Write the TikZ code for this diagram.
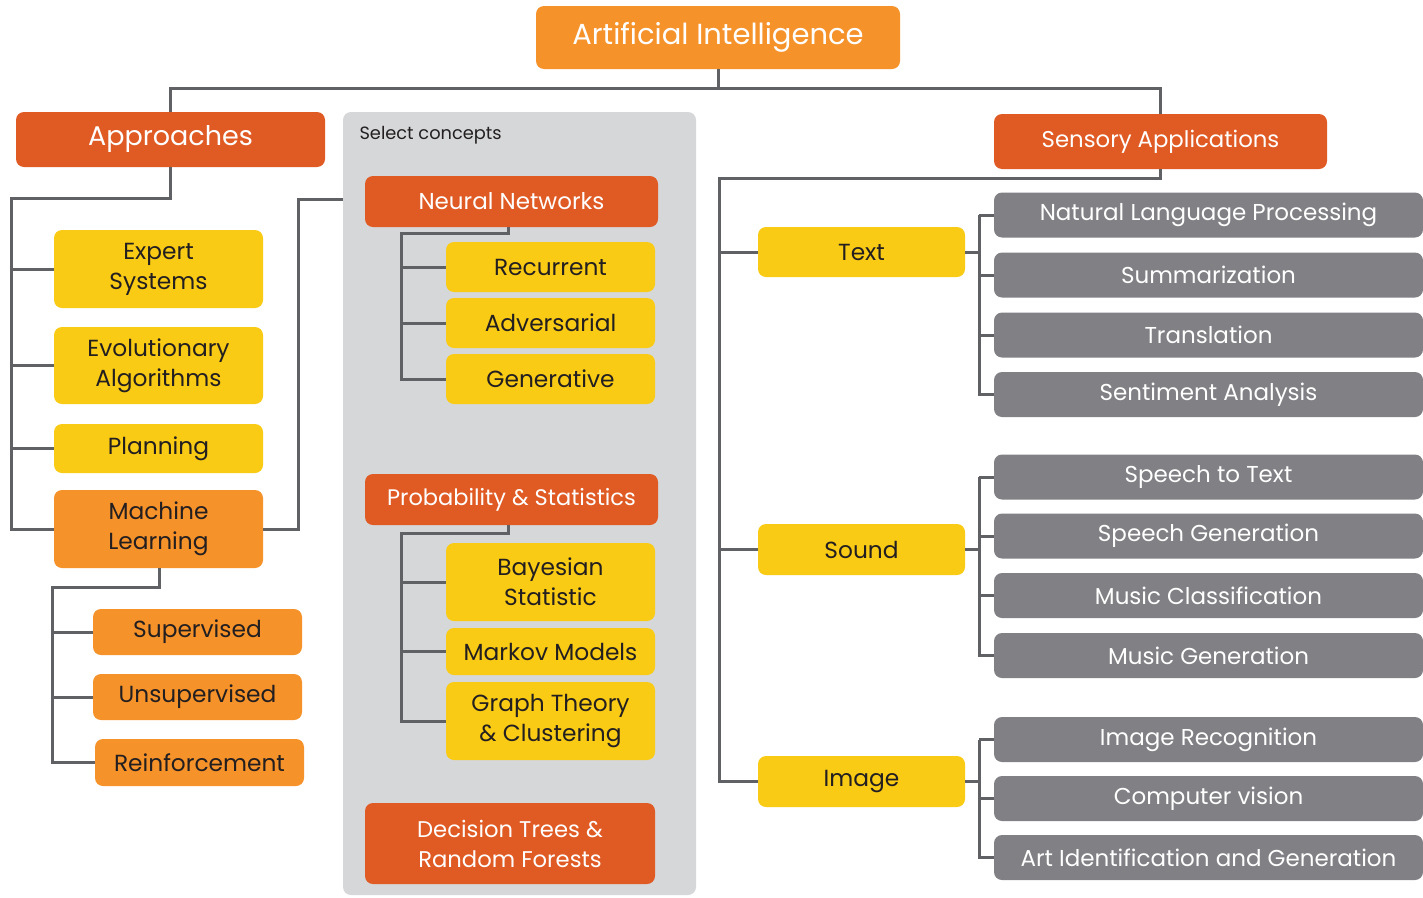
\documentclass[tikz,border=0pt]{standalone}
\usepackage{fontspec}
\setmainfont{Poppins}
\usetikzlibrary{calc}

\begin{document}
\begin{tikzpicture}[x=1pt, y=-1pt]
    % Define colours
    \definecolor{mainOrange}{HTML}{F5922A}
    \definecolor{darkOrange}{HTML}{E05A24}
    \definecolor{boxYellow}{HTML}{F9CB15}
    \definecolor{boxGrey}{HTML}{808085}
    \definecolor{panelGrey}{HTML}{D6D7D9}
    \definecolor{lineGrey}{HTML}{606165}
    \definecolor{textDark}{HTML}{231F20}

    % Define styles
    \tikzset{
      box/.style={rounded corners=8pt, inner sep=0pt, align=center},
      headbox/.style={box, fill=darkOrange, text=white},
      mlbox/.style={box, fill=mainOrange, text=textDark, font=\fontsize{23.3}{30}\selectfont},
      yellowbox/.style={box, fill=boxYellow, text=textDark, font=\fontsize{23.3}{30}\selectfont},
      greybox/.style={box, fill=boxGrey, text=white, minimum width=429, minimum height=45, font=\fontsize{23}{26}\selectfont},
      link/.style={draw=lineGrey, line width=3pt}
    }

    % Fix the page size
    \useasboundingbox (0,0) rectangle (1423,897);

    % Select concepts panel
    \node[box, fill=panelGrey, minimum width=353, minimum height=783] (panel) at (519.5,503.5) {};
    \node[anchor=west, text=textDark, font=\fontsize{17.8}{20}\selectfont] (select) at (356,135) {Select concepts};

    % Top level
    \node[box, fill=mainOrange, text=white, minimum width=364, minimum height=63, font=\fontsize{29}{34}\selectfont] (ai) at (718,37.5) {Artificial Intelligence};
    \node[headbox, minimum width=309, minimum height=55, font=\fontsize{27}{32}\selectfont] (appr) at (170.5,139.5) {Approaches};
    \node[headbox, minimum width=333, minimum height=55, font=\fontsize{22.8}{28}\selectfont] (sens) at (1160.5,141.5) {Sensory Applications};

    % Approaches
    \node[yellowbox, minimum width=209, minimum height=78] (expert) at (158.5,269) {Expert\\Systems};
    \node[yellowbox, minimum width=209, minimum height=77] (evo) at (158.5,365.5) {Evolutionary\\Algorithms};
    \node[yellowbox, minimum width=209, minimum height=49] (plan) at (158.5,448.5) {Planning};
    \node[mlbox, minimum width=209, minimum height=78] (ml) at (158.5,529) {Machine\\Learning};
    \node[mlbox, minimum width=209, minimum height=46] (sup) at (197.5,632) {Supervised};
    \node[mlbox, minimum width=209, minimum height=46] (unsup) at (197.5,697) {Unsupervised};
    \node[mlbox, minimum width=209, minimum height=47] (reinf) at (199.5,762.5) {Reinforcement};

    % Concepts
    \node[headbox, minimum width=293, minimum height=51, font=\fontsize{23}{26}\selectfont] (nn) at (511.5,201.5) {Neural Networks};
    \node[yellowbox, minimum width=209, minimum height=50] (rec) at (550.5,267) {Recurrent};
    \node[yellowbox, minimum width=209, minimum height=50] (adv) at (550.5,323) {Adversarial};
    \node[yellowbox, minimum width=209, minimum height=50] (gen) at (550.5,379) {Generative};
    \node[headbox, minimum width=293, minimum height=51, font=\fontsize{22.5}{26}\selectfont] (prob) at (511.5,499.5) {Probability \& Statistics};
    \node[yellowbox, minimum width=209, minimum height=78] (bayes) at (550.5,582) {Bayesian\\Statistic};
    \node[yellowbox, minimum width=209, minimum height=47] (markov) at (550.5,651.5) {Markov Models};
    \node[yellowbox, minimum width=209, minimum height=78] (graph) at (550.5,721) {Graph Theory\\\& Clustering};
    \node[headbox, minimum width=290, minimum height=81, font=\fontsize{22.7}{30}\selectfont] (dtree) at (510,843.5) {Decision Trees \&\\Random Forests};

    % Sensory applications
    \node[yellowbox, minimum width=207, minimum height=50] (text) at (861.5,252) {Text};
    \node[yellowbox, minimum width=207, minimum height=51] (sound) at (861.5,549.5) {Sound};
    \node[yellowbox, minimum width=207, minimum height=51] (image) at (861.5,781.5) {Image};

    \node[greybox] (nlp) at (1208.5,215) {Natural Language Processing};
    \node[greybox] (summ) at (1208.5,275) {Summarization};
    \node[greybox] (trans) at (1208.5,335) {Translation};
    \node[greybox] (senti) at (1208.5,394.5) {Sentiment Analysis};
    \node[greybox] (stt) at (1208.5,477) {Speech to Text};
    \node[greybox] (sgen) at (1208.5,536) {Speech Generation};
    \node[greybox] (mclass) at (1208.5,595.5) {Music Classification};
    \node[greybox] (mgen) at (1208.5,655.5) {Music Generation};
    \node[greybox] (irec) at (1208.5,739.5) {Image Recognition};
    \node[greybox] (cvis) at (1208.5,798.5) {Computer vision};
    \node[greybox] (art) at (1208.5,857.5) {Art Identification and Generation};

    % Spine coordinates
    \coordinate (aspine) at (11,198);
    \coordinate (mlturn) at (298,199);
    \coordinate (mlspine) at (52,587);
    \coordinate (nnspine) at (401,233);
    \coordinate (probspine) at (401,533);
    \coordinate (sspine) at (719,178);
    \coordinate (tspine) at (979,0);

    % Draw the connectors
    \draw[link] (ai.south) -- ++(0,19) -| (appr.north);
    \draw[link] (ai.south) -- ++(0,19) -| (sens.north);

    \draw[link] (appr.south) |- (aspine) |- (ml.west);
    \foreach \n in {expert,evo,plan}
      \draw[link] (aspine |- \n.west) -- (\n.west);
    \draw[link] (ml.east) -| (mlturn) -- (panel.west |- mlturn);

    \draw[link] (ml.south -| 159,0) |- (mlspine) |- (reinf.west);
    \foreach \n in {sup,unsup}
      \draw[link] (mlspine |- \n.west) -- (\n.west);

    \draw[link] (nn.south -| 508,0) |- (nnspine) |- (gen.west);
    \foreach \n in {rec,adv}
      \draw[link] (nnspine |- \n.west) -- (\n.west);

    \draw[link] (prob.south -| 508,0) |- (probspine) |- (graph.west);
    \foreach \n in {bayes,markov}
      \draw[link] (probspine |- \n.west) -- (\n.west);

    \draw[link] (sens.south) |- (sspine) |- (image.west);
    \foreach \n in {text,sound}
      \draw[link] (sspine |- \n.west) -- (\n.west);

    % Sensory branches
    \draw[link] (text.east) -- (tspine |- text.east);
    \draw[link] (tspine |- nlp.west) -- (nlp.west);
    \draw[link] (tspine |- nlp.west) |- (senti.west);
    \foreach \n in {summ,trans}
      \draw[link] (tspine |- \n.west) -- (\n.west);

    \draw[link] (sound.east) -- (tspine |- sound.east);
    \draw[link] (tspine |- stt.west) -- (stt.west);
    \draw[link] (tspine |- stt.west) |- (mgen.west);
    \foreach \n in {sgen,mclass}
      \draw[link] (tspine |- \n.west) -- (\n.west);

    \draw[link] (image.east) -- (tspine |- image.east);
    \draw[link] (tspine |- irec.west) -- (irec.west);
    \draw[link] (tspine |- irec.west) |- (art.west);
    \draw[link] (tspine |- cvis.west) -- (cvis.west);

\end{tikzpicture}
\end{document}
